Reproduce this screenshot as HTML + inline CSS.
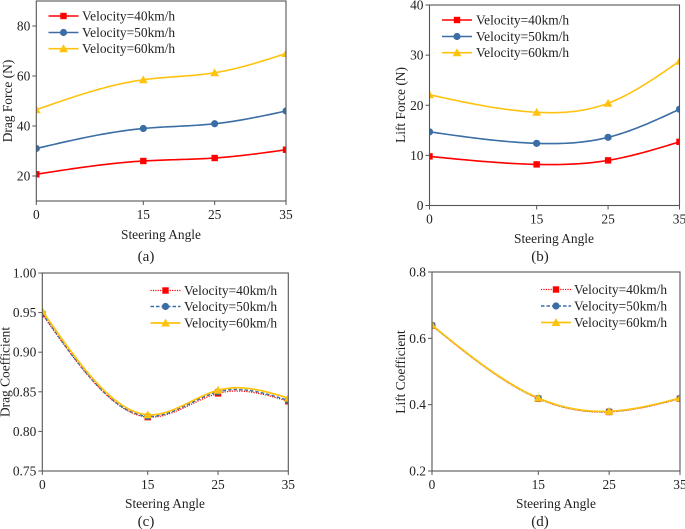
<!DOCTYPE html>
<html lang="en">
<head>
<meta charset="utf-8">
<title>Steering angle aerodynamic charts</title>
<style>
html,body{margin:0;padding:0;background:#fff;width:685px;height:529px;overflow:hidden}
svg{display:block;filter:blur(.35px)}
text{font-family:"Liberation Serif",serif;font-size:13.4px;fill:#222}
text.caption{font-size:15px}
</style>
</head>
<body>
<svg id="figure" xmlns="http://www.w3.org/2000/svg" width="685" height="529" viewBox="0 0 685 529">
  <rect width="685" height="529" fill="#fff"/>

  <g id="panel-a">
    <text x="161" y="239" text-anchor="middle">Steering Angle</text>
    <text transform="translate(12,101) rotate(-90)" text-anchor="middle">Drag Force (N)</text>
    <text class="caption" x="146" y="261" text-anchor="middle">(a)</text>
    <text x="82" y="20.5">Velocity=40km/h</text>
    <text x="82" y="37">Velocity=50km/h</text>
    <text x="82" y="53">Velocity=60km/h</text>
  </g>

  <g id="panel-b">
    <text x="554" y="243" text-anchor="middle">Steering Angle</text>
    <text transform="translate(405,105) rotate(-90)" text-anchor="middle">Lift Force (N)</text>
    <text class="caption" x="540" y="261" text-anchor="middle">(b)</text>
    <text x="476" y="24.5">Velocity=40km/h</text>
    <text x="476" y="41">Velocity=50km/h</text>
    <text x="476" y="57">Velocity=60km/h</text>
  </g>

  <g id="panel-c">
    <text x="165" y="508" text-anchor="middle">Steering Angle</text>
    <text transform="translate(9.5,372) rotate(-90)" text-anchor="middle">Drag Coefficient</text>
    <text class="caption" x="146" y="526" text-anchor="middle">(c)</text>
    <text x="184" y="295">Velocity=40km/h</text>
    <text x="184" y="311">Velocity=50km/h</text>
    <text x="184" y="327.5">Velocity=60km/h</text>
  </g>

  <g id="panel-d">
    <text x="556" y="508" text-anchor="middle">Steering Angle</text>
    <text transform="translate(405,372) rotate(-90)" text-anchor="middle">Lift Coefficient</text>
    <text class="caption" x="540" y="526" text-anchor="middle">(d)</text>
    <text x="574" y="294">Velocity=40km/h</text>
    <text x="574" y="310.5">Velocity=50km/h</text>
    <text x="574" y="327">Velocity=60km/h</text>
  </g>
</svg>

<script>
const steeringAngles = [0, 15, 25, 35];

const dragForce40 = [20.7, 26.0, 27.2, 30.5];
const dragForce50 = [31.0, 39.0, 40.9, 46.0];
const dragForce60 = [46.5, 58.5, 61.3, 69.0];
const dragForceTicks = [20, 40, 60, 80];

const liftForce40 = [9.8, 8.2, 9.0, 12.7];
const liftForce50 = [14.7, 12.4, 13.6, 19.2];
const liftForce60 = [22.1, 18.6, 20.4, 28.8];
const liftForceTicks = [0, 10, 20, 30, 40];

const dragCoef40 = [0.948, 0.818, 0.848, 0.838];
const dragCoef50 = [0.949, 0.819, 0.850, 0.839];
const dragCoef60 = [0.952, 0.821, 0.852, 0.842];
const dragCoefTicks = ["0.75", "0.80", "0.85", "0.90", "0.95", "1.00"];

const liftCoef40 = [0.638, 0.418, 0.378, 0.418];
const liftCoef50 = [0.639, 0.419, 0.379, 0.419];
const liftCoef60 = [0.640, 0.420, 0.380, 0.420];
const liftCoefTicks = ["0.2", "0.4", "0.6", "0.8"];

const NS = 'http://www.w3.org/2000/svg';
const RED = '#ff0000', BLUE = '#3a6ea5', GOLD = '#ffc20e', AXIS = '#555555';
const MARKER_SIZE = 3.2;

function make(parent, tag, attrs) {
  const el = document.createElementNS(NS, tag);
  for (const k in attrs) el.setAttribute(k, attrs[k]);
  parent.appendChild(el);
  return el;
}

/* natural cubic spline through the data, sampled to a path */
function splinePath(xs, ys) {
  const n = xs.length, h = [], a = [], b = [], c = [], r = [], m = new Array(n).fill(0);
  for (let i = 0; i < n - 1; i++) h[i] = xs[i + 1] - xs[i];
  for (let i = 1; i < n - 1; i++) {
    a[i] = h[i - 1];
    b[i] = 2 * (h[i - 1] + h[i]);
    c[i] = h[i];
    r[i] = 6 * ((ys[i + 1] - ys[i]) / h[i] - (ys[i] - ys[i - 1]) / h[i - 1]);
  }
  for (let i = 2; i < n - 1; i++) {
    const f = a[i] / b[i - 1];
    b[i] -= f * c[i - 1];
    r[i] -= f * r[i - 1];
  }
  for (let i = n - 2; i >= 1; i--) m[i] = (r[i] - (i < n - 2 ? c[i] * m[i + 1] : 0)) / b[i];
  let d = 'M' + xs[0].toFixed(2) + ' ' + ys[0].toFixed(2);
  for (let i = 0; i < n - 1; i++) {
    for (let s = 1; s <= 24; s++) {
      const t = s / 24, A = 1 - t, B = t;
      const y = A * ys[i] + B * ys[i + 1] + ((A * A * A - A) * m[i] + (B * B * B - B) * m[i + 1]) * h[i] * h[i] / 6;
      d += 'L' + (xs[i] + t * h[i]).toFixed(2) + ' ' + y.toFixed(2);
    }
  }
  return d;
}

function drawMarker(g, kind, x, y, color, size) {
  if (kind === 'square') {
    make(g, 'rect', { x: x - size, y: y - size, width: size * 2, height: size * 2, fill: color });
  } else if (kind === 'circle') {
    make(g, 'circle', { cx: x, cy: y, r: size + 0.4, fill: color });
  } else {
    const r = size + 1.2;
    make(g, 'polygon', { points: (x - r) + ',' + (y + r * 0.8) + ' ' + (x + r) + ',' + (y + r * 0.8) + ' ' + x + ',' + (y - r), fill: color });
  }
}

function drawPanel(opt) {
  const root = document.getElementById(opt.id);
  const sx = v => opt.left + (v - 0) / 35 * (opt.right - opt.left);
  const sy = v => opt.bottom - (v - opt.yMin) / (opt.yMax - opt.yMin) * (opt.bottom - opt.top);

  const clipId = opt.id + '-clip';
  const clip = make(root, 'clipPath', { id: clipId });
  make(clip, 'rect', { x: opt.left, y: opt.top, width: opt.right - opt.left, height: opt.bottom - opt.top });

  const plot = make(root, 'g', { 'clip-path': 'url(#' + clipId + ')' });
  
  

  opt.series.forEach(function (s) {
    const g = make(plot, 'g', {});
    
    
    const xs = steeringAngles.map(sx), ys = s.values.map(sy);
    const line = make(g, 'path', { d: splinePath(xs, ys), fill: 'none', stroke: s.color, 'stroke-width': s.width });
    if (s.dash) line.setAttribute('stroke-dasharray', s.dash);
    xs.forEach(function (x, i) {
      drawMarker(g, s.marker, x, ys[i], s.color, MARKER_SIZE);
    });
  });

  const frame = make(root, 'rect', {
    x: opt.left, y: opt.top, width: opt.right - opt.left, height: opt.bottom - opt.top,
    fill: 'none', stroke: AXIS, 'stroke-width': 1.1
  });
  
  

  steeringAngles.forEach(function (v) {
    const x = sx(v);
    const tick = make(root, 'line', { x1: x, x2: x, y1: opt.bottom, y2: opt.bottom + 4, stroke: AXIS, 'stroke-width': 1 });
    
    
    const label = make(root, 'text', { x: x, y: opt.bottom + 18, 'text-anchor': 'middle' });
    
    
    label.textContent = String(v);
  });

  opt.ticks.forEach(function (v) {
    const y = sy(Number(v));
    const tick = make(root, 'line', { x1: opt.left - 4, x2: opt.left, y1: y, y2: y, stroke: AXIS, 'stroke-width': 1 });
    
    
    const label = make(root, 'text', { x: opt.left - 6, y: y + 4.5, 'text-anchor': 'end' });
    
    
    label.textContent = String(v);
  });

  opt.series.forEach(function (s, i) {
    const ly = opt.legendY[i];
    const g = make(root, 'g', {});
    
    
    const line = make(g, 'line', {
      x1: opt.legendX, x2: opt.legendX + 30, y1: ly, y2: ly,
      stroke: s.color, 'stroke-width': s.width
    });
    if (s.dash) line.setAttribute('stroke-dasharray', s.dash);
    drawMarker(g, s.marker, opt.legendX + 15, ly, s.color, MARKER_SIZE);
  });
}

function solidSeries(v40, v50, v60) {
  return [
    { name: '40kmh', values: v40, color: RED, marker: 'square', width: 1.6 },
    { name: '50kmh', values: v50, color: BLUE, marker: 'circle', width: 1.6 },
    { name: '60kmh', values: v60, color: GOLD, marker: 'triangle', width: 1.6 }
  ];
}
function styledSeries(v40, v50, v60) {
  return [
    { name: '40kmh', values: v40, color: RED, marker: 'square', width: 1.2, dash: '1.2 1.2' },
    { name: '50kmh', values: v50, color: BLUE, marker: 'circle', width: 1.4, dash: '3.5 2' },
    { name: '60kmh', values: v60, color: GOLD, marker: 'triangle', width: 1.7 }
  ];
}

drawPanel({
  id: 'panel-a', left: 36.3, right: 286, top: 1, bottom: 201, yMin: 10, yMax: 90,
  ticks: dragForceTicks, series: solidSeries(dragForce40, dragForce50, dragForce60),
  legendX: 48.5, legendY: [16, 32.5, 48.7]
});
drawPanel({
  id: 'panel-b', left: 429.5, right: 679.5, top: 5, bottom: 205.5, yMin: 0, yMax: 40,
  ticks: liftForceTicks, series: solidSeries(liftForce40, liftForce50, liftForce60),
  legendX: 442, legendY: [20, 36.5, 52.7]
});
drawPanel({
  id: 'panel-c', left: 42.3, right: 288.3, top: 273, bottom: 471, yMin: 0.75, yMax: 1.0,
  ticks: dragCoefTicks, series: styledSeries(dragCoef40, dragCoef50, dragCoef60),
  legendX: 150.5, legendY: [290.5, 306.5, 323]
});
drawPanel({
  id: 'panel-d', left: 432, right: 680, top: 272, bottom: 471, yMin: 0.2, yMax: 0.8,
  ticks: liftCoefTicks, series: styledSeries(liftCoef40, liftCoef50, liftCoef60),
  legendX: 541, legendY: [289.5, 306, 322.5]
});
</script>
</body>
</html>
